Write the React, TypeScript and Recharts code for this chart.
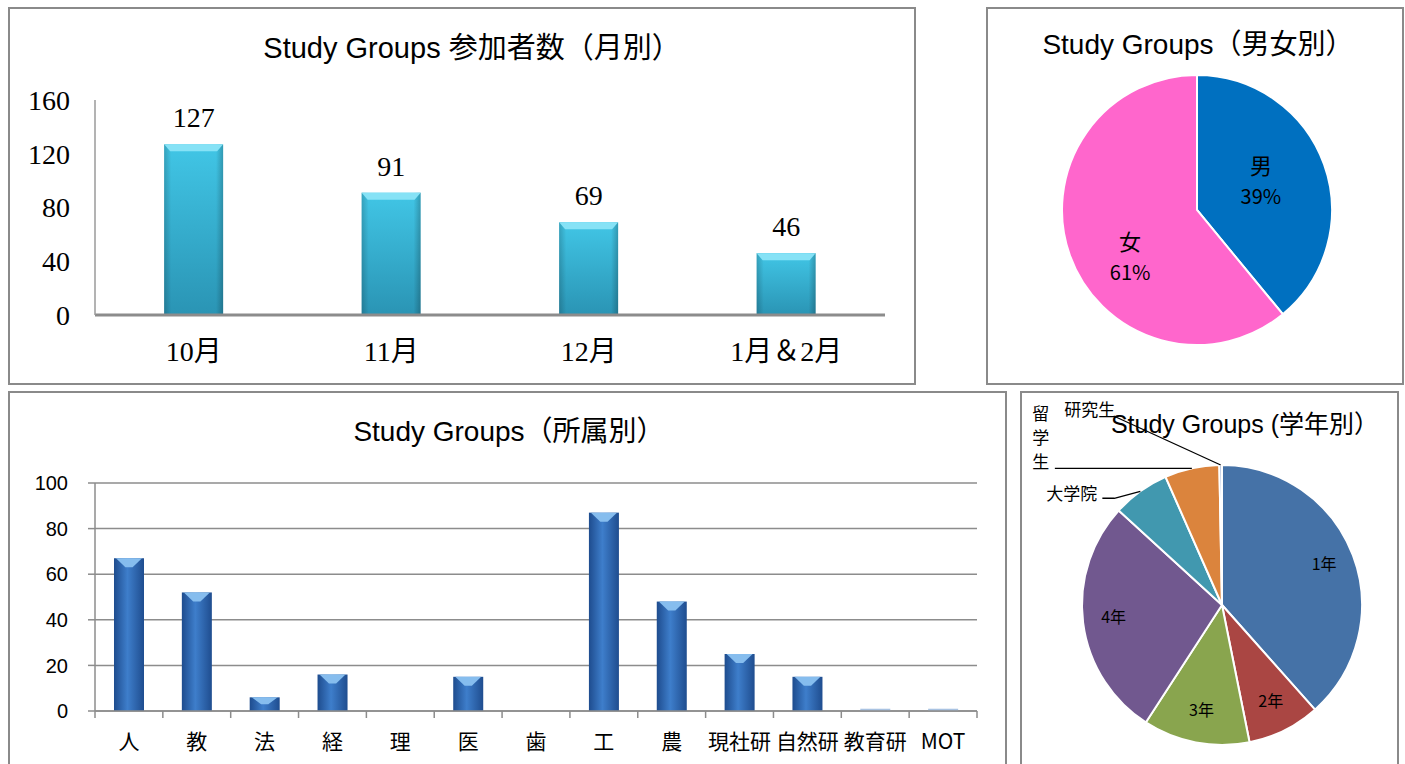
import React from 'react';
import { BarChart, Bar, XAxis, YAxis, CartesianGrid, LabelList, PieChart, Pie, Cell } from 'recharts';

// ---------- data ----------
const monthCategories = ['10月', '11月', '12月', '1月＆2月'];
const monthValues = [127, 91, 69, 46];
const monthTicks = [0, 40, 80, 120, 160];

const genderNames = ['男', '女'];
const genderValues = [130, 203];
const genderColors = ['#0070C0', '#FF66CC'];

const facultyNames = ['人', '教', '法', '経', '理', '医', '歯', '工', '農', '現社研', '自然研', '教育研', 'MOT'];
const facultyValues = [67, 52, 6, 16, 0, 15, 0, 87, 48, 25, 15, 1, 1];
const facultyTicks = [0, 20, 40, 60, 80, 100];

const gradeNames = ['1年', '2年', '3年', '4年', '大学院', '留学生', '研究生'];
const gradeValues = [128, 28, 41, 92, 22, 21, 1];
const gradeColors = ['#4572A7', '#AA4643', '#89A54E', '#71588F', '#4198AF', '#DB843D', '#93A9CF'];

// ---------- tables ----------
const monthData = monthCategories.map((name, i) => ({ name, value: monthValues[i] }));
const genderData = genderNames.map((name, i) => ({ name, value: genderValues[i] }));
const facultyData = facultyNames.map((name, i) => ({ name, value: facultyValues[i] }));
const gradeData = gradeNames.map((name, i) => ({ name, value: gradeValues[i] }));

const SERIF = "'Liberation Serif', 'Noto Sans CJK JP', serif";
const SANS = "'Liberation Sans', 'Noto Sans CJK JP', sans-serif";
const CJK = "'Noto Sans CJK JP', 'Liberation Sans', sans-serif";
const RAD = Math.PI / 180;

const MonthBar = (props: any) => {
  const { x, y, width, height } = props;
  if (!height || height <= 0) return null;
  const cap = Math.min(7, height / 2);
  return (
    <g>
      <rect x={x} y={y} width={width} height={height} fill="url(#cyanV)" />
      <rect x={x} y={y} width={width} height={height} fill="url(#edgeH)" />
      <polygon
        points={`${x},${y} ${x + width},${y} ${x + width - 6},${y + cap} ${x + 6},${y + cap}`}
        fill="#86E2F6"
      />
    </g>
  );
};

const FacultyBar = (props: any) => {
  const { x, y, width, height } = props;
  if (!height || height <= 0) return null;
  if (height < 4) {
    return <rect x={x} y={y} width={width} height={height} fill="#A9C3E2" />;
  }
  const cap = Math.min(9, height / 2);
  return (
    <g>
      <rect x={x} y={y} width={width} height={height} fill="url(#blueH)" />
      <polygon
        points={`${x + 2},${y} ${x + width - 2},${y} ${x + width * 0.62},${y + cap} ${x + width * 0.38},${y + cap}`}
        fill="#86BDEE"
      />
    </g>
  );
};

// category tick: label plus tick marks at the band boundaries (band half-width from the axis scale)
const FacultyTick = (props: any) => {
  const { x, y, payload, index, visibleTicksCount } = props;
  const half = (payload && payload.offset) || 0;
  const last = index === visibleTicksCount - 1;
  return (
    <g>
      <line x1={x - half} y1={y} x2={x - half} y2={y + 7} stroke="#8c8c8c" strokeWidth={1.5} />
      {last && <line x1={x + half} y1={y} x2={x + half} y2={y + 7} stroke="#8c8c8c" strokeWidth={1.5} />}
      <text x={x} y={y + 38} textAnchor="middle" fontSize={21} fontFamily={CJK} fill="#000">
        {payload.value}
      </text>
    </g>
  );
};

const genderLabelShift: Record<string, [number, number]> = { 男: [-6, -4], 女: [3, 22] };

const renderGenderLabel = (props: any) => {
  const { cx, cy, midAngle, outerRadius, name, percent } = props;
  const r = outerRadius * 0.55;
  const s = genderLabelShift[name] || [0, 0];
  const x = cx + r * Math.cos(-midAngle * RAD) + s[0];
  const y = cy + r * Math.sin(-midAngle * RAD) + s[1];
  return (
    <text x={x} y={y} textAnchor="middle" fill="#000" fontFamily={CJK}>
      <tspan x={x} y={y - 7} fontSize={22}>{name}</tspan>
      <tspan x={x} y={y + 23} fontSize={20}>{`${Math.round(percent * 100)}%`}</tspan>
    </text>
  );
};

const renderGradeLabel = (props: any) => {
  const { cx, cy, midAngle, outerRadius, name, index } = props;
  const c = Math.cos(-midAngle * RAD);
  const s = Math.sin(-midAngle * RAD);
  if (index < 4) {
    const r = outerRadius * 0.78;
    return (
      <text x={cx + r * c} y={cy + r * s - 3} textAnchor="middle" dominantBaseline="central" fontSize={16} fontFamily={CJK} fill="#000">
        {name}
      </text>
    );
  }
  const ax = cx + outerRadius * c;
  const ay = cy + outerRadius * s;
  if (name === '大学院') {
    return (
      <g>
        <polyline points={`${ax},${ay} ${ax - 26},${ay + 7} ${ax - 38},${ay + 7}`} fill="none" stroke="#000" strokeWidth={1.3} />
        <text x={ax - 43} y={ay + 1} textAnchor="end" dominantBaseline="central" fontSize={17} fontFamily={CJK} fill="#000">{name}</text>
      </g>
    );
  }
  if (name === '留学生') {
    const chars = name.split('');
    return (
      <g>
        <line x1={ax} y1={ay} x2={ax - 137} y2={ay} stroke="#000" strokeWidth={1.3} />
        {chars.map((ch: string, i: number) => (
          <text key={i} x={ax - 151} y={ay - 56 + i * 24} textAnchor="middle" dominantBaseline="central" fontSize={17} fontFamily={CJK} fill="#000">{ch}</text>
        ))}
      </g>
    );
  }
  return (
    <g>
      <line x1={ax} y1={ay} x2={ax - 107} y2={ay - 49} stroke="#000" strokeWidth={1.3} />
      <text x={ax - 131} y={ay - 57} textAnchor="middle" dominantBaseline="central" fontSize={17} fontFamily={CJK} fill="#000">{name}</text>
    </g>
  );
};

const panel = (left: number, top: number, width: number, height: number): React.CSSProperties => ({
  position: 'absolute',
  left,
  top,
  width,
  height,
  border: '2px solid #8a8a8a',
  boxSizing: 'border-box',
});

const abs = (left: number, top: number): React.CSSProperties => ({ position: 'absolute', left, top });

const title = (left: number, top: number, width: number, size: number): React.CSSProperties => ({
  position: 'absolute',
  left,
  top,
  width,
  textAlign: 'center',
  fontFamily: SANS,
  fontSize: size,
  lineHeight: '30px',
  color: '#000',
  whiteSpace: 'nowrap',
});

export default function App() {
  return (
    <div style={{ position: 'absolute', left: 0, top: 0, width: 1405, height: 764, background: '#fff', overflow: 'hidden' }}>
      <svg width={0} height={0} style={{ position: 'absolute' }}>
        <defs>
          <linearGradient id="cyanV" x1="0" y1="0" x2="0" y2="1">
            <stop offset="0%" stopColor="#41C6E6" />
            <stop offset="100%" stopColor="#2A94B4" />
          </linearGradient>
          <linearGradient id="edgeH" x1="0" y1="0" x2="1" y2="0">
            <stop offset="0%" stopColor="#000" stopOpacity={0.18} />
            <stop offset="12%" stopColor="#000" stopOpacity={0} />
            <stop offset="88%" stopColor="#000" stopOpacity={0} />
            <stop offset="100%" stopColor="#000" stopOpacity={0.22} />
          </linearGradient>
          <linearGradient id="blueH" x1="0" y1="0" x2="1" y2="0">
            <stop offset="0%" stopColor="#1E4C8E" />
            <stop offset="45%" stopColor="#3E7ECB" />
            <stop offset="100%" stopColor="#1F4D8F" />
          </linearGradient>
        </defs>
      </svg>

      <div style={panel(8, 7, 908, 378)} />
      <div style={panel(986, 7, 418, 378)} />
      <div style={panel(8, 391, 999, 380)} />
      <div style={panel(1020, 391, 379, 380)} />

      <div style={title(172, 33, 600, 29)}>Study Groups 参加者数（月別）</div>
      <div style={title(998, 30, 400, 28)}>Study Groups（男女別）</div>
      <div style={title(309, 417, 400, 28)}>Study Groups（所属別）</div>
      <div style={title(1045, 409, 400, 25)}>Study Groups (学年別）</div>

      {/* Monthly bar chart */}
      <div style={abs(8, 7)}>
        <BarChart width={908} height={377} data={monthData} margin={{ top: 93, right: 31, bottom: 0, left: 0 }} barCategoryGap="35%">
          <XAxis
            dataKey="name"
            height={69}
            interval={0}
            axisLine={{ stroke: '#8c8c8c', strokeWidth: 3 }}
            tickLine={false}
            tickSize={0}
            tickMargin={26}
            tick={{ fontSize: 28, fill: '#000', fontFamily: SERIF }}
          />
          <YAxis
            domain={[0, 160]}
            ticks={monthTicks}
            interval={0}
            width={87}
            axisLine={{ stroke: '#9a9a9a', strokeWidth: 1.5 }}
            tickLine={false}
            tickSize={0}
            tickMargin={25}
            tick={{ fontSize: 28, fill: '#000', fontFamily: SERIF }}
          />
          <Bar dataKey="value" isAnimationActive={false} shape={<MonthBar />}>
            <LabelList dataKey="value" position="top" offset={17} style={{ fontSize: 28, fill: '#000', fontFamily: SERIF }} />
          </Bar>
        </BarChart>
      </div>

      {/* Gender pie */}
      <div style={abs(986, 7)}>
        <PieChart width={417} height={377}>
          <Pie
            data={genderData}
            dataKey="value"
            nameKey="name"
            cx={206}
            cy={198}
            outerRadius={135}
            startAngle={90}
            endAngle={-270}
            stroke="#fff"
            strokeWidth={2}
            labelLine={false}
            label={renderGenderLabel}
            isAnimationActive={false}
          >
            {genderData.map((d, i) => (
              <Cell key={d.name} fill={genderColors[i]} />
            ))}
          </Pie>
        </PieChart>
      </div>

      {/* Faculty bar chart */}
      <div style={abs(8, 391)}>
        <BarChart width={998} height={373} data={facultyData} margin={{ top: 92, right: 29, bottom: 0, left: 0 }} barCategoryGap="28%">
          <CartesianGrid vertical={false} stroke="#8c8c8c" strokeWidth={1.5} />
          <XAxis
            dataKey="name"
            height={53}
            interval={0}
            axisLine={{ stroke: '#8c8c8c', strokeWidth: 1.5 }}
            tickLine={false}
            tickSize={0}
            tickMargin={0}
            tick={<FacultyTick />}
          />
          <YAxis
            domain={[0, 100]}
            ticks={facultyTicks}
            interval={0}
            width={87}
            axisLine={{ stroke: '#8c8c8c', strokeWidth: 1.5 }}
            tickLine={{ stroke: '#8c8c8c', strokeWidth: 1.5 }}
            tickSize={7}
            tickMargin={20}
            tick={{ fontSize: 20, fill: '#000', fontFamily: SANS }}
          />
          <Bar dataKey="value" isAnimationActive={false} shape={<FacultyBar />} />
        </BarChart>
      </div>

      {/* Grade pie */}
      <div style={abs(1020, 391)}>
        <PieChart width={378} height={373}>
          <Pie
            data={gradeData}
            dataKey="value"
            nameKey="name"
            cx={197}
            cy={209}
            outerRadius={140}
            startAngle={90}
            endAngle={-270}
            stroke="#fff"
            strokeWidth={2}
            labelLine={false}
            label={renderGradeLabel}
            isAnimationActive={false}
          >
            {gradeData.map((d, i) => (
              <Cell key={d.name} fill={gradeColors[i]} />
            ))}
          </Pie>
        </PieChart>
      </div>
    </div>
  );
}
